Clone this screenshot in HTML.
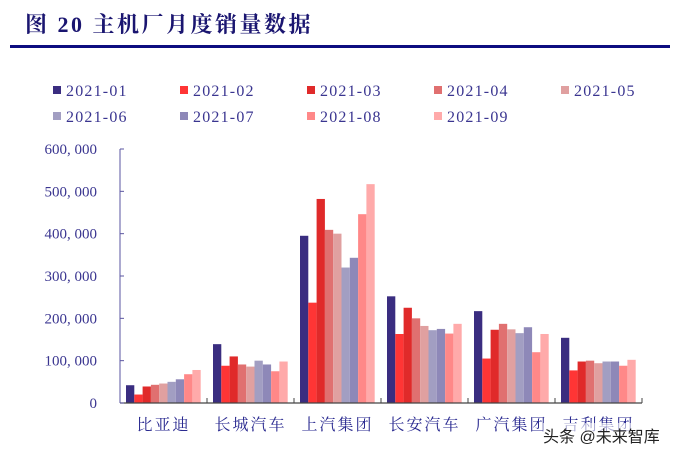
<!DOCTYPE html>
<html><head><meta charset="utf-8"><style>
body{margin:0;background:#fff;width:681px;height:452px;overflow:hidden;position:relative;font-family:"Liberation Serif","Noto Serif CJK SC",serif}
#title{position:absolute;left:25px;top:8px;font-size:22px;font-weight:bold;color:#1a1570;letter-spacing:2.5px;font-family:"Liberation Serif","Noto Serif CJK SC",serif}
#rule{position:absolute;left:10px;top:45px;width:660px;height:3px;background:#0d0d80}
#wm{position:absolute;left:543px;top:423px;font-size:16px;color:#222;font-family:"Liberation Sans","Noto Sans CJK SC",sans-serif;background:rgba(255,255,255,0.6)}
</style></head><body>
<div id="title">图 20 主机厂月度销量数据</div>
<div id="rule"></div>
<svg id="chart" width="681" height="452" style="position:absolute;left:0;top:0"></svg>
<div id="wm">头条 @未来智库</div>
<script>
const categories=["比亚迪","长城汽车","上汽集团","长安汽车","广汽集团","吉利集团"];
const seriesNames=["2021-01","2021-02","2021-03","2021-04","2021-05","2021-06","2021-07","2021-08","2021-09"];
const colors=["#3a2d80","#ff3535","#e02a2a","#e07070","#e0a0a0","#a29ec2","#8e88b8","#ff8888","#ffaaaa"];
const s01=[42000,139000,395000,252000,217000,154000];
const s02=[20000,88000,237000,163000,105000,77000];
const s03=[39000,110000,482000,225000,173000,98000];
const s04=[43000,91000,409000,200000,187000,100000];
const s05=[46000,86000,400000,182000,174000,94000];
const s06=[50000,100000,320000,172000,165000,98000];
const s07=[56000,91000,343000,175000,179000,98000];
const s08=[68000,75000,446000,164000,120000,88000];
const s09=[78000,98000,517000,187000,163000,102000];
const series=[s01,s02,s03,s04,s05,s06,s07,s08,s09];
const yTicks=[0,100000,200000,300000,400000,500000,600000];
const yLabels=["0","100, 000","200, 000","300, 000","400, 000","500, 000","600, 000"];
const svg=document.getElementById('chart');const NS="http://www.w3.org/2000/svg";
const X0=120,X1=642,Y0=403,Y1=149,YMAX=600000;
const gw=(X1-X0)/categories.length,bw=8.3;
const y=v=>Y0-(v/YMAX)*(Y0-Y1);
function mk(t,a){const e=document.createElementNS(NS,t);for(const k in a)e.setAttribute(k,a[k]);svg.appendChild(e);return e;}
series.forEach((s,si)=>s.forEach((v,ci)=>{
 const r=mk('rect',{x:X0+ci*gw+6+si*bw,y:y(v),width:bw,height:Y0-y(v),fill:colors[si]});
 
 
}));
const ax=mk('line',{x1:X0,y1:Y1,x2:X0,y2:Y0,stroke:'#5a55a0','stroke-width':1});

const bx=mk('line',{x1:X0,y1:Y0,x2:X1,y2:Y0,stroke:'#444','stroke-width':1.3});

yTicks.forEach((t,i)=>{
 mk('line',{x1:X0,y1:y(t),x2:X0+4,y2:y(t),stroke:'#5a55a0'});
 const tx=mk('text',{x:97,y:y(t)+5,'text-anchor':'end','font-size':15,fill:'#3a3590'});
 tx.textContent=yLabels[i];
 
});
categories.forEach((c,i)=>{
 if(i>0)mk('line',{x1:X0+i*gw,y1:Y0,x2:X0+i*gw,y2:Y0-5,stroke:'#444'});
 const tx=mk('text',{x:X0+(i+0.5)*gw,y:430,'text-anchor':'middle','font-size':16,fill:'#2a2a90','letter-spacing':2});
 tx.textContent=c;
 
});
mk('line',{x1:X1,y1:Y0,x2:X1,y2:Y0-5,stroke:'#444'});
seriesNames.forEach((n,i)=>{
 const col=i%5,row=Math.floor(i/5);
 const lx=53+col*127,ly=90+row*26;
 const m=mk('rect',{x:lx,y:ly-4,width:8,height:8,fill:colors[i]});
 
 const tx=mk('text',{x:lx+13,y:ly+6,'font-size':16,fill:'#3a3590','letter-spacing':1.2});
 tx.textContent=n;
 
});
</script>
</body></html>
